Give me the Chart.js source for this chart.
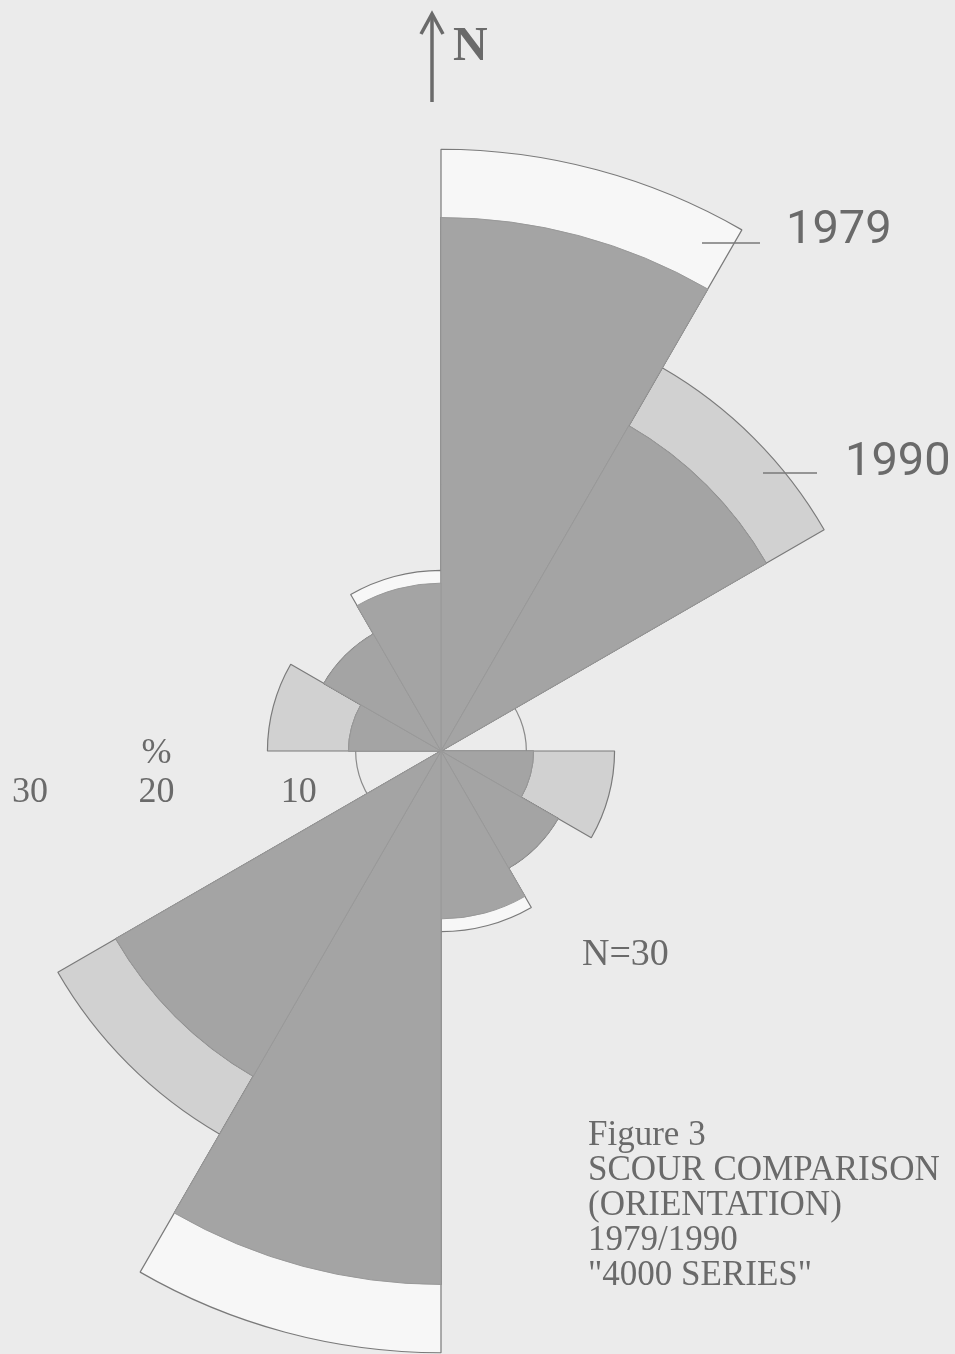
<!DOCTYPE html>
<html>
<head>
<meta charset="utf-8">
<script src="https://cdn.jsdelivr.net/npm/chart.js@4.4.0/dist/chart.umd.min.js"></script>
<style>
  html, body { margin: 0; padding: 0; background: #ebebeb; }
  canvas { display: block; }
</style>
</head>
<body>
<canvas id="rose" width="955" height="1354"></canvas>
<script>
// 30 degree orientation classes, clockwise from north (axial data, so mirrored)
const sectors = ['0-30', '30-60', '60-90', '90-120', '120-150', '150-180',
                 '180-210', '210-240', '240-270', '270-300', '300-330', '330-360'];
const scour1979 = [42.3, 26.4, 0, 6.5, 9.5, 12.7, 42.3, 26.4, 0, 6.5, 9.5, 12.7];
const scour1990 = [37.5, 31.1, 0, 12.2, 9.5, 11.8, 37.5, 31.1, 0, 12.2, 9.5, 11.8];
const tickValues = [10, 20, 30];
const ringValue = 6;
const captionLines = ['Figure 3', 'SCOUR COMPARISON', '(ORIENTATION)', '1979/1990', '"4000 SERIES"'];

// the part both years share is drawn dark on top
const shared = scour1979.map((v, i) => Math.min(v, scour1990[i]));

const serif = '"Liberation Serif", "Times New Roman", serif';
const ink = '#6a6a6a';

const annotate = {
  id: 'annotate',
  beforeDatasetsDraw(chart) {
    const r = chart.scales.r;
    const ctx = chart.ctx;
    ctx.save();
    ctx.strokeStyle = '#8a8a8a';
    ctx.lineWidth = 1.2;
    ctx.beginPath();
    ctx.arc(r.xCenter, r.yCenter, r.getDistanceFromCenterForValue(ringValue), 0, Math.PI * 2);
    ctx.stroke();
    ctx.restore();
  },
  afterDraw(chart) {
    const r = chart.scales.r;
    const ctx = chart.ctx;
    ctx.save();
    ctx.fillStyle = ink;
    ctx.strokeStyle = ink;

    // radial % labels along the west axis
    ctx.font = '36px ' + serif;
    ctx.textAlign = 'center';
    ctx.textBaseline = 'alphabetic';
    tickValues.forEach(v => {
      const txt = String(v);
      const w = ctx.measureText(txt).width;
      const x = Math.max(r.xCenter - r.getDistanceFromCenterForValue(v), 12 + w / 2);
      ctx.fillText(txt, x, r.yCenter + 51);
    });
    ctx.fillText('%', r.xCenter - r.getDistanceFromCenterForValue(20), r.yCenter + 12);

    // north arrow
    ctx.lineWidth = 3.5;
    ctx.beginPath();
    ctx.moveTo(432, 102);
    ctx.lineTo(432, 16);
    ctx.stroke();
    ctx.beginPath();
    ctx.moveTo(421, 34);
    ctx.lineTo(432, 14);
    ctx.lineTo(443, 34);
    ctx.stroke();
    ctx.textAlign = 'left';
    ctx.font = 'bold 48px ' + serif;
    ctx.fillText('N', 453, 60);

    // year callouts
    ctx.strokeStyle = '#7a7a7a';
    ctx.lineWidth = 1.5;
    ctx.beginPath();
    ctx.moveTo(702, 243); ctx.lineTo(760, 243);
    ctx.moveTo(763, 473); ctx.lineTo(817, 473);
    ctx.stroke();
    ctx.font = '47px Roboto, "Liberation Sans", sans-serif';
    ctx.fillText('1979', 786, 243);
    ctx.fillText('1990', 845, 475);

    ctx.font = '38px ' + serif;
    ctx.fillText('N=30', 582, 965);

    ctx.font = '35px ' + serif;
    captionLines.forEach((line, i) => ctx.fillText(line, 588, 1145 + i * 35));
    ctx.restore();
  }
};

new Chart(document.getElementById('rose'), {
  type: 'polarArea',
  data: {
    labels: sectors,
    datasets: [
      { label: 'both', data: shared, backgroundColor: '#a4a4a4', borderColor: '#999999', borderWidth: 1, order: 0, clip: false },
      { label: '1979', data: scour1979, backgroundColor: '#f7f7f7', borderColor: '#7a7a7a', borderWidth: 1.2, order: 1, clip: false },
      { label: '1990', data: scour1990, backgroundColor: '#d1d1d1', borderColor: '#7a7a7a', borderWidth: 1.2, order: 2, clip: false }
    ]
  },
  options: {
    responsive: false,
    animation: false,
    devicePixelRatio: 1,
    layout: { padding: { left: 0, right: 73, top: 310, bottom: 162 } },
    plugins: { legend: { display: false }, tooltip: { enabled: false } },
    scales: {
      r: {
        min: 0,
        max: 31,
        startAngle: 0,
        ticks: { display: false },
        grid: { display: false },
        angleLines: { display: false },
        pointLabels: { display: false }
      }
    }
  },
  plugins: [annotate]
});
</script>
</body>
</html>
